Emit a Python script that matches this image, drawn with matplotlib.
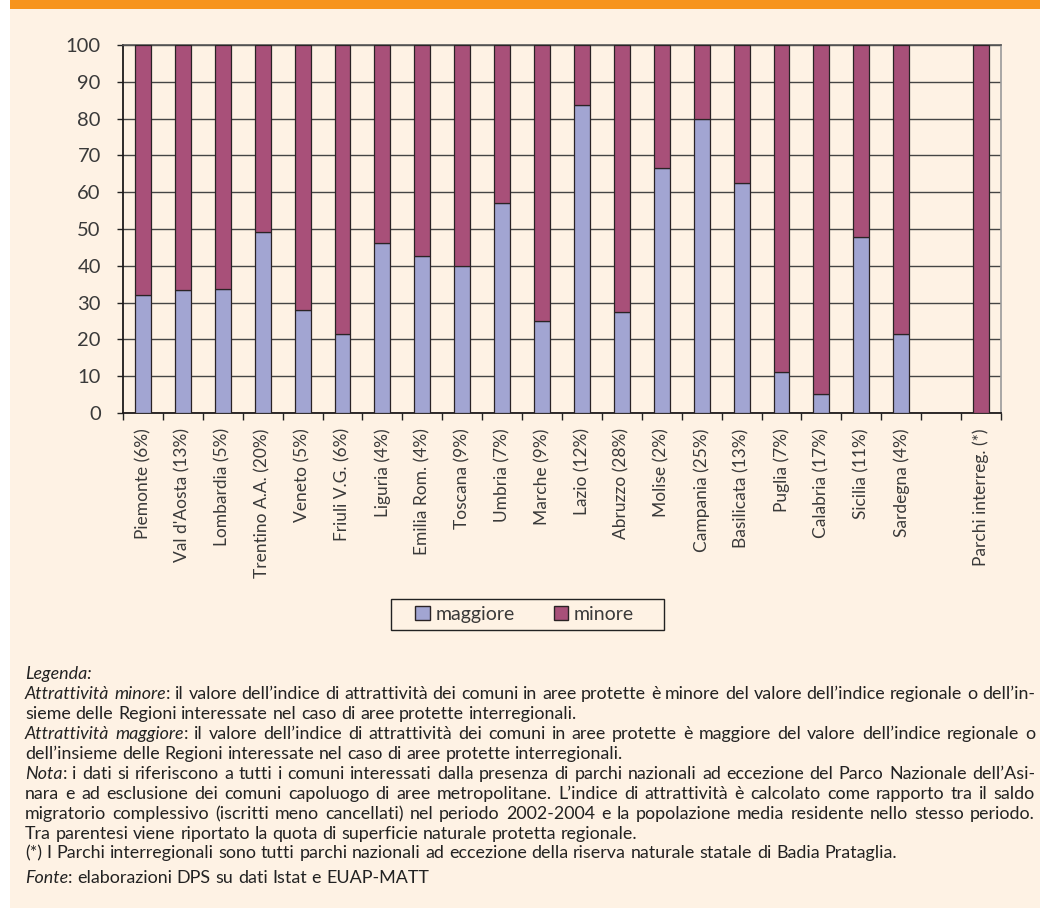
import matplotlib
matplotlib.use("Agg")
import matplotlib.pyplot as plt
from matplotlib.patches import Rectangle, Patch
from matplotlib import font_manager as fm
import numpy as np

# ---------------- data ----------------
categories = ["Piemonte (6%)", "Val d'Aosta (13%)", "Lombardia (5%)", "Trentino A.A. (20%)",
              "Veneto (5%)", "Friuli V.G. (6%)", "Liguria (4%)", "Emilia Rom. (4%)",
              "Toscana (9%)", "Umbria (7%)", "Marche (9%)", "Lazio (12%)", "Abruzzo (28%)",
              "Molise (2%)", "Campania (25%)", "Basilicata (13%)", "Puglia (7%)",
              "Calabria (17%)", "Sicilia (11%)", "Sardegna (4%)", "", "Parchi interreg. (*)"]
maggiore = [32.2, 33.3, 33.6, 49.2, 27.9, 21.4, 46.1, 42.7, 39.9, 57.1, 25.0, 83.8, 27.5,
            66.6, 79.9, 62.4, 11.2, 5.1, 47.7, 21.4, None, 0.0]
minore = [67.8, 66.7, 66.4, 50.8, 72.1, 78.6, 53.9, 57.3, 60.1, 42.9, 75.0, 16.2, 72.5,
          33.4, 20.1, 37.6, 88.8, 94.9, 52.3, 78.6, None, 100.0]
series_names = ["maggiore", "minore"]
yticks = list(range(0, 101, 10))

COL_MAG = "#A2A5D2"
COL_MIN = "#A85079"
CREAM = "#FEF2E4"
ORANGE = "#F7941D"
EDGE = "#2A2325"
LBL = "#3A3A3A"

names = {f.name for f in fm.fontManager.ttflist}
FONT = "Lato" if "Lato" in names else "DejaVu Sans"
plt.rcParams["font.family"] = [FONT, "DejaVu Sans"]

W, H = 1040, 908
fig = plt.figure(figsize=(W / 100, H / 100), dpi=100)
fig.patch.set_facecolor("white")

# background panels
fig.add_artist(Rectangle((10 / W, 0), 1 - 10 / W, 1 - 9 / H, transform=fig.transFigure,
                         facecolor=CREAM, edgecolor="none", zorder=-10))
fig.add_artist(Rectangle((10 / W, 1 - 9 / H), 1 - 10 / W, 9 / H, transform=fig.transFigure,
                         facecolor=ORANGE, edgecolor="none", zorder=-10))

# ---------------- axes ----------------
ax_l, ax_r, ax_t, ax_b = 123, 1001, 45, 413
ax = fig.add_axes([ax_l / W, 1 - ax_b / H, (ax_r - ax_l) / W, (ax_b - ax_t) / H])
ax.set_facecolor("none")

x = np.arange(len(categories))
idx = [i for i, v in enumerate(maggiore) if v is not None]
xm = x[idx]
mag = np.array([maggiore[i] for i in idx])
mnr = np.array([minore[i] for i in idx])
bw = 0.4
ax.bar(xm, mag, width=bw, color=COL_MAG, edgecolor=EDGE, linewidth=0.9, zorder=3,
       label=series_names[0])
ax.bar(xm, mnr, bottom=mag, width=bw, color=COL_MIN, edgecolor=EDGE, linewidth=0.9,
       zorder=3, label=series_names[1])

ax.set_xlim(-0.5, len(categories) - 0.5)
ax.set_ylim(0, 100)
ax.set_yticks(yticks)
ax.set_yticklabels([str(t) for t in yticks], fontsize=14.5, color=LBL)
ax.yaxis.grid(True, color="#454545", linewidth=1.0, zorder=1)
ax.set_axisbelow(True)

ax.set_xticks(x)
ax.set_xticklabels(categories, rotation=90, fontsize=12.5, color=LBL,
                   va="top", ha="center")
ax.set_xticks(np.arange(-0.5, len(categories), 1.0), minor=True)
ax.tick_params(axis="x", which="major", length=0, pad=11)
ax.tick_params(axis="x", which="minor", length=5, width=1, color="#222222", direction="out")
ax.tick_params(axis="y", length=4, width=1, color="#222222", pad=12, direction="out")

for s in ["left", "bottom"]:
    ax.spines[s].set_color("#1E1A1B")
    ax.spines[s].set_linewidth(1.3)
ax.spines["top"].set_color("#555555")
ax.spines["top"].set_linewidth(1.2)
ax.spines["right"].set_color("#9A9A9A")
ax.spines["right"].set_linewidth(1.2)

# ---------------- legend ----------------
handles = [Patch(facecolor=COL_MAG, edgecolor=EDGE, linewidth=1.0),
           Patch(facecolor=COL_MIN, edgecolor=EDGE, linewidth=1.0)]
fig.legend(handles, series_names, loc="center", bbox_to_anchor=(524.5 / W, 1 - 614.5 / H),
           ncol=2, frameon=False, fontsize=14, handlelength=0.75, handleheight=0.75,
           handletextpad=0.3, columnspacing=2.0, borderpad=0.0,
           labelcolor=LBL)
fig.add_artist(Rectangle((391 / W, 1 - 630 / H), (664 - 391) / W, 31 / H,
                         transform=fig.transFigure, facecolor="none",
                         edgecolor="#222222", linewidth=1.0))

# ---------------- footnotes (justified) ----------------
N, I = "normal", "italic"
lines = [
    ([("Legenda:", I)], False),
    ([("Attrattività minore", I), (": il valore dell’indice di attrattività dei comuni in aree protette è minore del valore dell’indice regionale o dell’in-", N)], True),
    ([("sieme delle Regioni interessate nel caso di aree protette interregionali.", N)], False),
    ([("Attrattività maggiore", I), (": il valore dell’indice di attrattività dei comuni in aree protette è maggiore del valore dell’indice regionale o", N)], True),
    ([("dell’insieme delle Regioni interessate nel caso di aree protette interregionali.", N)], False),
    ([("Nota", I), (": i dati si riferiscono a tutti i comuni interessati dalla presenza di parchi nazionali ad eccezione del Parco Nazionale dell’Asi-", N)], True),
    ([("nara e ad esclusione dei comuni capoluogo di aree metropolitane. L’indice di attrattività è calcolato come rapporto tra il saldo", N)], True),
    ([("migratorio complessivo (iscritti meno cancellati) nel periodo 2002-2004 e la popolazione media residente nello stesso periodo.", N)], True),
    ([("Tra parentesi viene riportato la quota di superficie naturale protetta regionale.", N)], False),
    ([("(*) I Parchi interregionali sono tutti parchi nazionali ad eccezione della riserva naturale statale di Badia Prataglia.", N)], False),
    ([("Fonte", I), (": elaborazioni DPS su dati Istat e EUAP-MATT", N)], False),
]
baselines = [679, 699, 719, 739, 759, 779, 799, 819, 839, 858, 883]
X0, X1 = 25, 1035
TXT = "#222222"

renderer = fig.canvas.get_renderer()


def tokens(segs):
    words = [[]]
    for text, style in segs:
        parts = text.split(" ")
        for i, p in enumerate(parts):
            if i > 0:
                words.append([])
            if p:
                words[-1].append((p, style))
    return [w for w in words if w]


def measure(s, style, fs):
    t = fig.text(0, 0, s, fontsize=fs, style=style)
    w = t.get_window_extent(renderer).width
    t.remove()
    return w


def line_width(segs, fs):
    ws = tokens(segs)
    sp = measure("a a", N, fs) - measure("aa", N, fs)
    tot = sum(measure(p, st, fs) for w in ws for p, st in w)
    return tot + sp * (len(ws) - 1)


fs = 12.0
maxw = max(line_width(segs, fs) for segs, j in lines if j)
fs = fs * (X1 - X0 - 4) / maxw

sp = measure("a a", N, fs) - measure("aa", N, fs)
for (segs, just), yb in zip(lines, baselines):
    ws = tokens(segs)
    widths = [[measure(p, st, fs) for p, st in w] for w in ws]
    total = sum(sum(w) for w in widths)
    gap = (X1 - X0 - total) / (len(ws) - 1) if (just and len(ws) > 1) else sp
    xpos = X0
    for w, wl in zip(ws, widths):
        xx = xpos
        for (p, st), pw in zip(w, wl):
            fig.text(xx / W, 1 - yb / H, p, fontsize=fs, style=st, color=TXT,
                     va="baseline", ha="left")
            xx += pw
        xpos = xx + gap

fig.savefig("out.png", dpi=100, facecolor=fig.get_facecolor())
